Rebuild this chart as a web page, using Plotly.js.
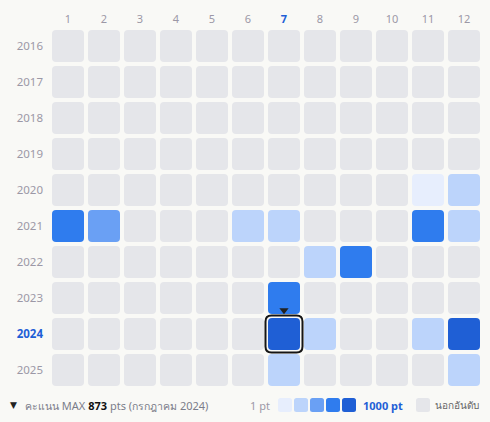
<!DOCTYPE html>
<html>
<head>
<meta charset="utf-8">
<script src="https://cdn.plot.ly/plotly-3.0.1.min.js"></script>
<style>
  html, body { margin: 0; padding: 0; background: #f9f9f6; }
  #chart { width: 490px; height: 422px; }
</style>
</head>
<body>
<div id="chart"></div>
<script>
// ---- data ----
const months = [1, 2, 3, 4, 5, 6, 7, 8, 9, 10, 11, 12];
const years = [2016, 2017, 2018, 2019, 2020, 2021, 2022, 2023, 2024, 2025];
// points per month (null = out of ranking), one row per year
const s2016 = [null, null, null, null, null, null, null, null, null, null, null, null];
const s2017 = [null, null, null, null, null, null, null, null, null, null, null, null];
const s2018 = [null, null, null, null, null, null, null, null, null, null, null, null];
const s2019 = [null, null, null, null, null, null, null, null, null, null, null, null];
const s2020 = [null, null, null, null, null, null, null, null, null, null, 3, 20];
const s2021 = [300, 80, null, null, null, 25, 30, null, null, null, 280, 15];
const s2022 = [null, null, null, null, null, null, null, 20, 320, null, null, null];
const s2023 = [null, null, null, null, null, null, 260, null, null, null, null, null];
const s2024 = [null, null, null, null, null, null, 873, 20, null, null, 25, 600];
const s2025 = [null, null, null, null, null, null, 18, null, null, null, null, 22];
const scores = [s2016, s2017, s2018, s2019, s2020, s2021, s2022, s2023, s2024, s2025];
const binEdges = [1, 5, 50, 150, 500, 1001];
const binColors = ['#e7eefd', '#bcd4fb', '#6aa0f4', '#2f7cee', '#1f5fd5'];
const emptyColor = '#e5e6ea';
const monthNamesTh = ['มกราคม','กุมภาพันธ์','มีนาคม','เมษายน','พฤษภาคม','มิถุนายน','กรกฎาคม','สิงหาคม','กันยายน','ตุลาคม','พฤศจิกายน','ธันวาคม'];

const blue = '#1f5fd6';
const labelGray = '#9c98a6';

function colorFor(v) {
  if (v === null || v === undefined) return emptyColor;
  for (let i = 0; i < binColors.length; i++) {
    if (v >= binEdges[i] && v < binEdges[i + 1]) return binColors[i];
  }
  return binColors[binColors.length - 1];
}

function roundedPath(cx, cy, h, r) {
  const x0 = cx - h, x1 = cx + h, y0 = cy - h, y1 = cy + h;
  return `M${x0 + r},${y0} L${x1 - r},${y0} Q${x1},${y0} ${x1},${y0 + r} ` +
         `L${x1},${y1 - r} Q${x1},${y1} ${x1 - r},${y1} L${x0 + r},${y1} ` +
         `Q${x0},${y1} ${x0},${y1 - r} L${x0},${y0 + r} Q${x0},${y0} ${x0 + r},${y0} Z`;
}

// find max
let maxV = -1, maxM = null, maxY = null;
scores.forEach((row, yi) => row.forEach((v, mi) => {
  if (v !== null && v > maxV) { maxV = v; maxM = months[mi]; maxY = years[yi]; }
}));

const shapes = [];
const hx = [], hy = [], ht = [];
const half = 16 / 36, rad = 4 / 36;
scores.forEach((row, yi) => row.forEach((v, mi) => {
  const cx = months[mi], cy = years[yi];
  shapes.push({
    type: 'path', xref: 'x', yref: 'y', layer: 'below',
    path: roundedPath(cx, cy, half, rad),
    fillcolor: colorFor(v), line: { width: 0 }
  });
  hx.push(cx); hy.push(cy);
  ht.push(v === null ? 'นอกอันดับ' : v + ' pts');
}));
// highlight outline around max
shapes.push({
  type: 'path', xref: 'x', yref: 'y', layer: 'above',
  path: roundedPath(maxM, maxY, 18.5 / 36, 6 / 36),
  fillcolor: 'rgba(0,0,0,0)', line: { color: '#151515', width: 2 }
});

// legend (paper coords)
const L = 50, R = 482, T = 28, B = 388;
const px = p => (p - L) / (R - L);
const py = p => (B - p) / (B - T);
function paperRect(x0, y0, x1, y1, r) {
  const X0 = px(x0), X1 = px(x1), Y0 = py(y0), Y1 = py(y1);
  const rx = r / (R - L), ry = r / (B - T);
  return `M${X0 + rx},${Y0} L${X1 - rx},${Y0} Q${X1},${Y0} ${X1},${Y0 - ry} ` +
         `L${X1},${Y1 + ry} Q${X1},${Y1} ${X1 - rx},${Y1} L${X0 + rx},${Y1} ` +
         `Q${X0},${Y1} ${X0},${Y1 + ry} L${X0},${Y0 - ry} Q${X0},${Y0} ${X0 + rx},${Y0} Z`;
}
binColors.forEach((c, i) => {
  const x0 = 278 + i * 16;
  shapes.push({ type: 'path', xref: 'paper', yref: 'paper', path: paperRect(x0, 398, x0 + 14, 412, 2.5),
    fillcolor: c, line: { width: 0 } });
});
shapes.push({ type: 'path', xref: 'paper', yref: 'paper', path: paperRect(416, 398, 430, 412, 2.5),
  fillcolor: emptyColor, line: { width: 0 } });

const font = 'Noto Sans, DejaVu Sans, sans-serif';
const annotations = [
  { xref: 'paper', yref: 'paper', x: px(13), y: py(405), xanchor: 'center', yanchor: 'middle',
    text: '▼', showarrow: false, font: { family: 'DejaVu Sans', size: 9, color: '#222' } },
  { xref: 'paper', yref: 'paper', x: px(23), y: py(405), xanchor: 'left', yanchor: 'middle',
    text: `<span style="font-size:10.5px">คะแนน</span> MAX <b><span style="color:#111">${maxV}</span></b> pts (<span style="font-size:10.5px">${monthNamesTh[maxM - 1]}</span> ${maxY})`,
    showarrow: false, font: { family: font, size: 11, color: '#7b7d8a' } },
  { xref: 'paper', yref: 'paper', x: px(272), y: py(405), xanchor: 'right', yanchor: 'middle',
    text: `${binEdges[0]} pt`, showarrow: false, font: { family: font, size: 11, color: labelGray } },
  { xref: 'paper', yref: 'paper', x: px(361), y: py(405), xanchor: 'left', yanchor: 'middle',
    text: `<b>${binEdges[binEdges.length - 1] - 1} pt</b>`, showarrow: false, font: { family: font, size: 11, color: blue } },
  { xref: 'paper', yref: 'paper', x: px(433), y: py(405), xanchor: 'left', yanchor: 'middle',
    text: 'นอกอันดับ', showarrow: false, font: { family: font, size: 10, color: '#666' } }
];

const traces = [
  { type: 'scatter', mode: 'markers', x: hx, y: hy, text: ht,
    marker: { size: 30, color: 'rgba(0,0,0,0)' }, hovertemplate: '%{y}/%{x}: %{text}<extra></extra>' },
  { type: 'scatter', mode: 'markers', x: [maxM], y: [maxY - 0.66],
    marker: { symbol: 'triangle-down', size: 8, color: '#222' }, hoverinfo: 'skip' }
];

const layout = {
  width: 490, height: 422,
  margin: { l: L, r: 490 - R, t: T, b: 422 - B },
  paper_bgcolor: '#f9f9f6', plot_bgcolor: '#f9f9f6',
  showlegend: false,
  font: { family: font, size: 11, color: labelGray },
  xaxis: {
    side: 'top', range: [0.5, 12.5], showgrid: false, zeroline: false, showline: false,
    ticks: '', tickvals: months, fixedrange: true, ticklabelstandoff: 2,
    ticktext: months.map(m => m === maxM ? `<b><span style="color:${blue}">${m}</span></b>` : String(m)),
    tickfont: { family: font, size: 11, color: labelGray }
  },
  yaxis: {
    range: [2025.5, 2015.5], showgrid: false, zeroline: false, showline: false,
    ticks: '', tickvals: years, fixedrange: true, ticklabelstandoff: 6,
    ticktext: years.map(y => y === maxY ? `<b><span style="color:${blue}">${y}</span></b>` : String(y)),
    tickfont: { family: font, size: 11.5, color: labelGray }
  },
  shapes: shapes,
  annotations: annotations
};

Plotly.newPlot('chart', traces, layout, { displayModeBar: false, staticPlot: false });
</script>
</body>
</html>
